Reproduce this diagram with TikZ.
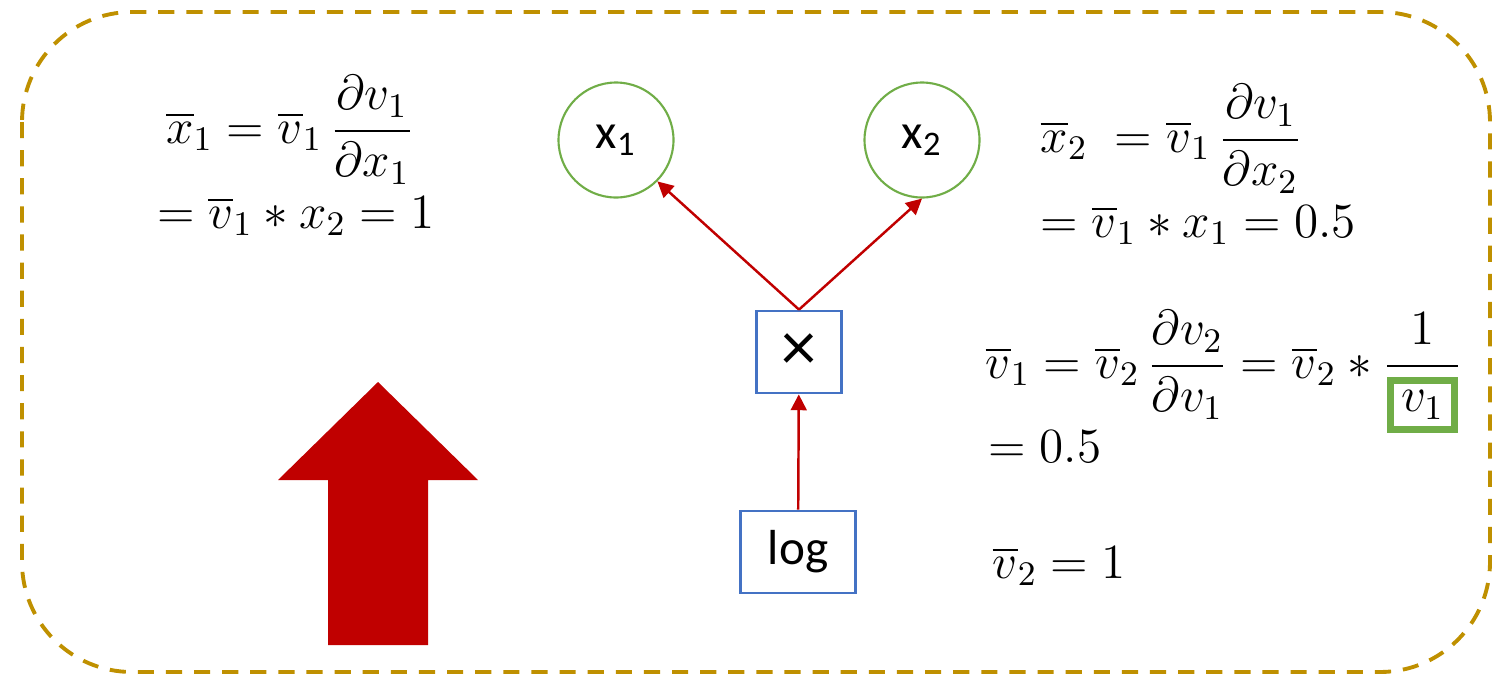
\RequirePackage{fix-cm}
\documentclass[tikz,border=0pt]{standalone}
\usepackage{amsmath}
\usepackage{fontspec}
\setsansfont{Carlito}
\usetikzlibrary{arrows.meta}
\definecolor{gradred}{HTML}{C00000}
\definecolor{vargreen}{HTML}{70AD47}
\definecolor{opblue}{HTML}{4472C4}
\definecolor{framegold}{HTML}{BF9000}
\setlength{\fboxrule}{2pt}
\setlength{\fboxsep}{2pt}
\newcommand{\gbox}[1]{\fcolorbox{vargreen}{white}{$#1$}}

\begin{document}
\begin{tikzpicture}[every node/.style={inner sep=1.5pt},
    var/.style={circle,draw=vargreen,line width=0.6pt,minimum size=1.15cm,inner sep=0pt,font=\sffamily\fontsize{14}{16}\selectfont},
    op/.style={rectangle,draw=opblue,line width=0.8pt,minimum height=0.82cm,inner sep=0pt,font=\sffamily\fontsize{14}{16}\selectfont},
    gradarrow/.style={-{Triangle[length=4.5pt,width=4.5pt]},draw=gradred,line width=0.7pt},
    eq/.style={inner sep=0pt,font=\fontsize{14}{17}\selectfont}]
    \useasboundingbox (0,0) rectangle (15.04,-6.81);
    \draw[framegold,line width=1.1pt,dash pattern=on 4.6pt off 3.4pt,rounded corners=1.1cm] (0.22,-0.12) rectangle (14.90,-6.72);
    % graph
    \node[var] (x1) at (6.16,-1.40) {x\textsubscript{1}};
    \node[var] (x2) at (9.22,-1.40) {x\textsubscript{2}};
    \node[op,minimum width=0.85cm] (mul) at (7.99,-3.52) {\fontsize{20}{20}\selectfont ×};
    \node[op,minimum width=1.15cm] (log) at (7.98,-5.52) {log};
    \draw[gradarrow] (log) -- (mul);
    \draw[gradarrow] (mul.north) -- (x1.-45);
    \draw[gradarrow] (mul.north) -- (x2.south);
    % backward direction
    \fill[gradred] (3.28,-6.45) -- (3.28,-4.80) -- (2.78,-4.80) -- (3.78,-3.82) -- (4.78,-4.80) -- (4.28,-4.80) -- (4.28,-6.45) -- cycle;
    % gradients
    \node[eq,anchor=base] (gx1a) at (2.90,-1.43) {$\overline{x}_1 = \overline{v}_1\, \dfrac{\partial v_1}{\partial x_1}$};
    \node[eq,anchor=base] (gx1b) at (2.96,-2.28) {$= \overline{v}_1 \ast x_2 = 1$};
    \node[eq,anchor=base west] (gx2a) at (10.40,-1.52) {$\overline{x}_2\; = \overline{v}_1\, \dfrac{\partial v_1}{\partial x_2}$};
    \node[eq,anchor=base west] (gx2b) at (10.40,-2.37) {$= \overline{v}_1 \ast x_1 = 0.5$};
    \node[eq,anchor=base west] (gv1a) at (9.85,-3.78) {$\overline{v}_1 = \overline{v}_2\, \dfrac{\partial v_2}{\partial v_1} = \overline{v}_2 \ast \dfrac{1}{\gbox{v_1}}$};
    \node[eq,anchor=base west] (gv1b) at (9.88,-4.62) {$= 0.5$};
    \node[eq,anchor=base west] (gv2) at (9.92,-5.78) {$\overline{v}_2 = 1$};
\end{tikzpicture}
\end{document}
